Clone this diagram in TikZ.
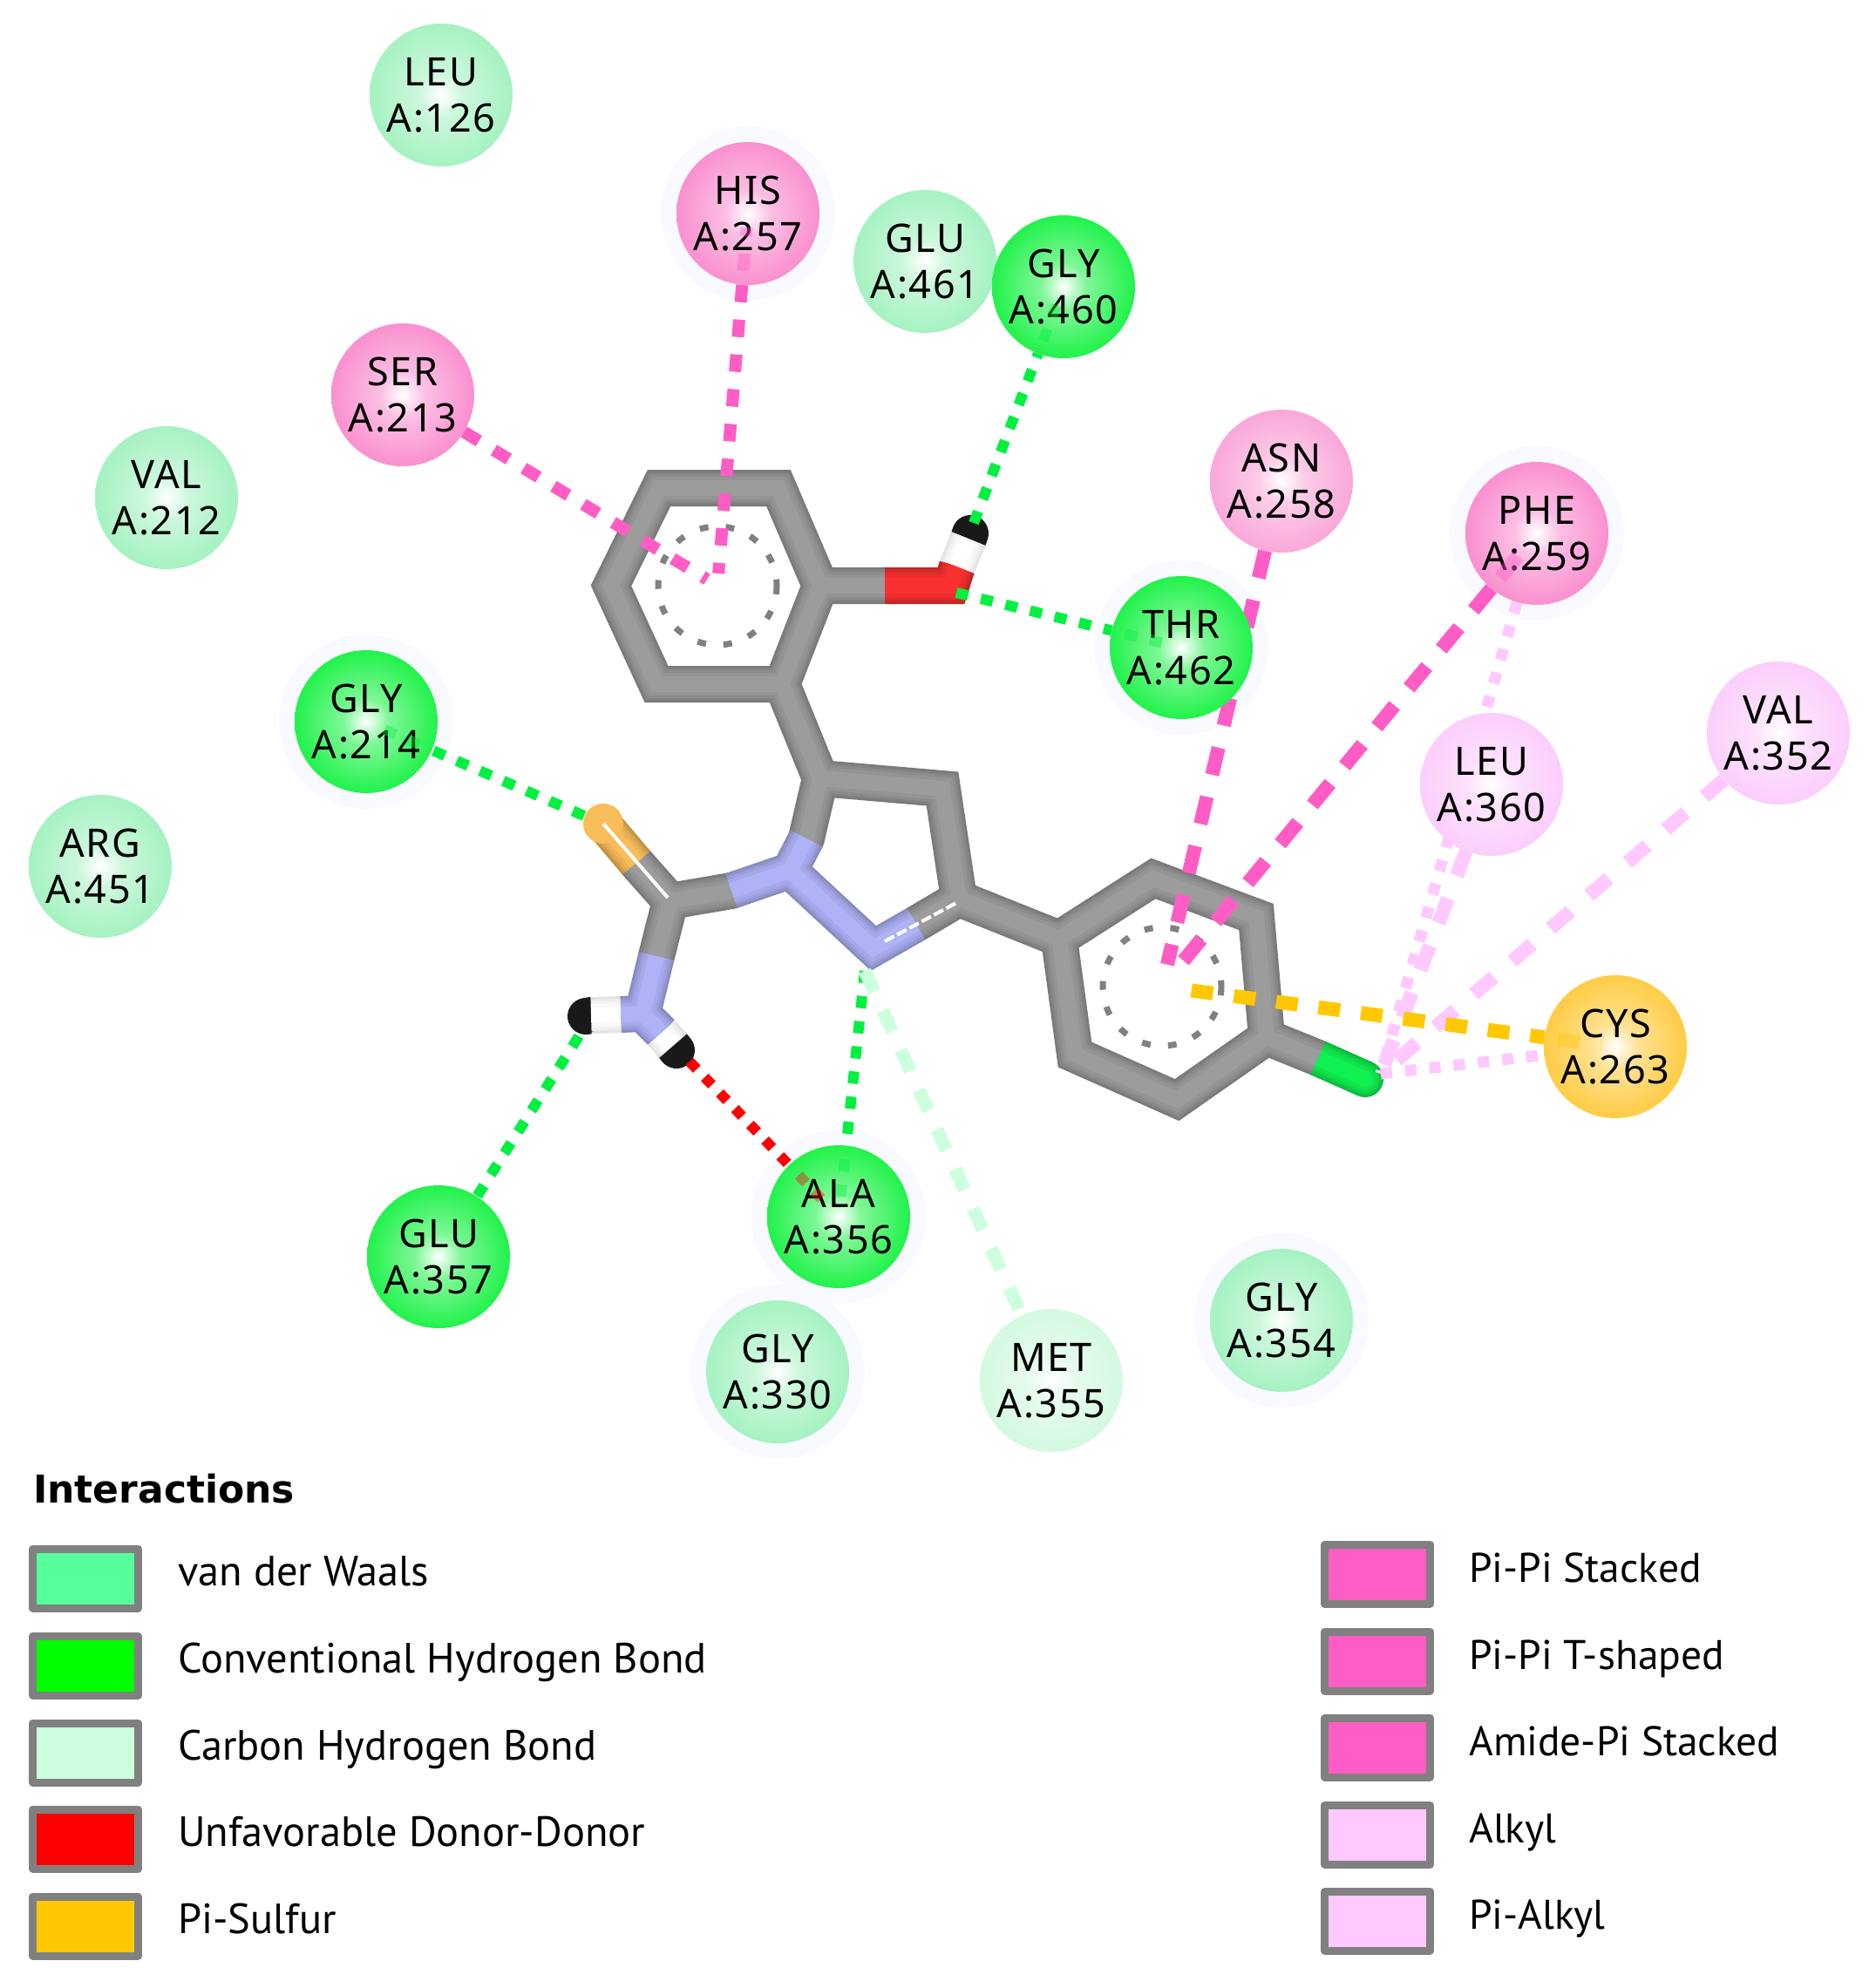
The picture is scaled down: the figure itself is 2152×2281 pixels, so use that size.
\documentclass[tikz,border=0pt]{standalone}
\usepackage{fontspec}
\usetikzlibrary{backgrounds,calc}

\newfontfamily\resfont[LetterSpace=3.5]{Noto Sans}
\newfontfamily\legfont{PT Sans}
\newfontfamily\legtitlefont{DejaVu Sans}

% Residue and legend colours
\definecolor{vdwc}{HTML}{55FF99}
\definecolor{hbondc}{HTML}{00F040}
\definecolor{chbondc}{HTML}{CCFFDD}
\definecolor{redc}{HTML}{FF0000}
\definecolor{sulfc}{HTML}{FFC800}
\definecolor{pipic}{HTML}{FF5CC6}
\definecolor{alkylc}{HTML}{FFC8FF}
\definecolor{bondc}{HTML}{9C9C9C}
\definecolor{nitroc}{HTML}{AEB2F6}
\definecolor{oxyc}{HTML}{F83030}
\definecolor{sulfatomc}{HTML}{F8BC58}
\definecolor{chlorc}{HTML}{10F050}
\definecolor{haloc}{HTML}{F8FAFF}

% White core, then the residue colour over most of the disc
\newcommand{\resshade}[2]{\definecolor{tmpc}{HTML}{#2}%
  \pgfdeclareradialshading{#1}{\pgfpointorigin}{color(0bp)=(white); color(8bp)=(tmpc!50!white);
    color(24bp)=(tmpc!85!white); color(42bp)=(tmpc); color(50bp)=(tmpc)}}
\resshade{vdwshade}{98F0B8}
\resshade{hbondshade}{00F030}
\resshade{chbondshade}{CDF8DC}
\resshade{pipishade}{F97FC8}
\resshade{asnshade}{F99AD3}
\resshade{alkylshade}{FBC6FB}
\resshade{sulfshade}{FFC428}

\tikzset{
  residue/.style={circle, minimum size=164pt, inner sep=0pt, align=center,
    font=\resfont\fontsize{45}{53}\selectfont},
  vdw/.style={residue, shading=vdwshade},
  hbond/.style={residue, shading=hbondshade},
  chbond/.style={residue, shading=chbondshade},
  pipi/.style={residue, shading=pipishade},
  pipilight/.style={residue, shading=asnshade},
  alkyl/.style={residue, shading=alkylshade},
  sulf/.style={residue, shading=sulfshade},
  greenlink/.style={color=hbondc, line width=12pt, dash pattern=on 14pt off 15pt},
  redlink/.style={color=redc, line width=12pt, dash pattern=on 12pt off 13pt},
  carbonlink/.style={color=chbondc, line width=15pt, dash pattern=on 26pt off 24pt},
  pinklink/.style={color=pipic, line width=14pt, dash pattern=on 20pt off 20pt},
  pinkwide/.style={color=pipic, line width=16pt, dash pattern=on 32pt off 26pt},
  sulflink/.style={color=sulfc, line width=16pt, dash pattern=on 25pt off 24pt},
  alkylwide/.style={color=alkylc, line width=16pt, dash pattern=on 30pt off 28pt},
  alkylthin/.style={color=alkylc, line width=13pt, dash pattern=on 13pt off 15pt},
  legbox/.style={draw=gray, line width=9pt, minimum width=121pt, minimum height=68pt, inner sep=0pt},
  legtext/.style={anchor=base west, inner sep=0pt, font=\legfont\fontsize{48.5}{52}\selectfont},
  legtextr/.style={legtext, font=\legfont\fontsize{47.5}{52}\selectfont},
}

\begin{document}
\begin{tikzpicture}[x=1pt, y=-1pt, line join=round]

\useasboundingbox (0,0) rectangle (2152,2281);

% Residues
\foreach \name/\x/\y/\kind/\top/\bot in {
  leu126/506/109/vdw/LEU/A:126, glu461/1061/300/vdw/GLU/A:461,
  val212/191/571/vdw/VAL/A:212, arg451/115/994/vdw/ARG/A:451,
  gly330/892/1574/vdw/GLY/A:330, gly354/1470/1515/vdw/GLY/A:354,
  gly460/1220/329/hbond/GLY/A:460, thr462/1355/743/hbond/THR/A:462,
  gly214/420/828/hbond/GLY/A:214, ala356/962/1396/hbond/ALA/A:356,
  glu357/503/1442/hbond/GLU/A:357, met355/1206/1584/chbond/MET/A:355,
  his257/858/245/pipi/HIS/A:257, ser213/462/453/pipi/SER/A:213,
  asn258/1470/552/pipilight/ASN/A:258, phe259/1763/612/pipi/PHE/A:259,
  leu360/1711/900/alkyl/LEU/A:360, val352/2040/841/alkyl/VAL/A:352,
  cys263/1853/1201/sulf/CYS/A:263}
  \node[\kind] (\name) at (\x,\y) {\top\\\bot};

% Atoms where the dashed contacts end
\coordinate (ringA) at (823,672);
\coordinate (ringB) at (1333,1132);
\coordinate (hydroxyH) at (1117,600);
\coordinate (oxy) at (1097,680);
\coordinate (sulfur) at (670,936);
\coordinate (amideHa) at (664,1189);
\coordinate (amideHb) at (791,1218);
\coordinate (nitroB) at (992,1114);
\coordinate (chlor) at (1584,1232);

\begin{pgfonlayer}{background}

% Faint halos
\foreach \name in {his257,gly214,thr462,ala356,gly330,gly354,phe259}
  \fill[haloc] (\name) circle (100);

% Ring dashes
\draw[color=gray, line width=7pt, dash pattern=on 10pt off 20pt] (ringA) circle (68);
\draw[color=gray, line width=7pt, dash pattern=on 10pt off 20pt] (ringB) circle (68);

% Stick model, dark edge first and light core last
\foreach \w/\s in {42/78, 37/84, 32/90, 26/95, 18/100}{
  \draw[line width=\w pt, color=bondc!\s!black, line cap=round]
    (756,560) -- (893,560) -- (941,672) -- (897,785) -- (753,785) -- (701,672) -- cycle
    (941,672) -- (1015,672)
    (897,785) -- (941,893) -- (1081,905) -- (1100,1031) -- (1051,1060)
    (941,893) -- (925,962)
    (839,1022) -- (769,1034) -- (753,1097)
    (769,1034) -- (730,990)
    (1100,1031) -- (1215,1077)
    (1323,1008) -- (1441,1052) -- (1453,1190) -- (1350,1262) -- (1233,1210) -- (1215,1077) -- cycle
    (1453,1190) -- (1512,1214);
  % Nitrogen
  \draw[line width=\w pt, color=nitroc!\s!black]
    (925,962) -- (906,999) -- (839,1022)
    (906,999) -- (1002,1088) -- (1051,1060)
    (753,1097) -- (737,1163) -- (712,1164)
    (737,1163) -- (759,1185);
  % Sulfur end of the double bond
  \draw[line width=\w pt, color=sulfatomc!\s!black] (730,990) -- (692,945);
  % Oxygen
  \draw[line width=\w pt, color=oxyc!\s!black] (1015,672) -- (1091,672) -- (1098,650);
  % Chlorine
  \draw[line width=\w pt, color=chlorc!\s!black, line cap=round] (1530,1222) -- (1566,1238);
  \draw[line width=\w pt, color=chlorc!\s!black] (1512,1214) -- (1530,1222);
  % Hydrogens, black tip under the white part
  \draw[line width=\w pt, color=black!90, line cap=round]
    (1111,618) -- (1113,612)
    (678,1165) -- (672,1166)
    (772,1200) -- (776,1205);
  \draw[line width=\w pt, color=white!\s!gray]
    (1098,650) -- (1111,618)
    (712,1164) -- (678,1165)
    (759,1185) -- (772,1200);
}
\fill[sulfatomc] (692,945) circle (23);

% White gaps of the double bonds
\draw[white, line width=4pt] (766,1030) -- (692,945);
\draw[white, line width=4pt, dash pattern=on 12pt off 4pt] (1015,1080) -- (1097,1036);

% Contacts
\draw[greenlink] (hydroxyH) -- (gly460);
\draw[greenlink] (oxy) -- (thr462);
\draw[greenlink] (sulfur) -- (gly214);
\draw[greenlink] (amideHa) -- (glu357);
\draw[greenlink] (nitroB) -- (ala356);
\draw[redlink] (amideHb) -- (ala356);
\draw[carbonlink] (nitroB) -- (met355);
\draw[pinklink, shorten >=14pt] (his257) -- (ringA);
\draw[pinklink, shorten >=14pt] (ser213) -- (ringA);
\draw[pinkwide, shorten >=26pt] (asn258) -- (ringB);
\draw[pinkwide, shorten >=26pt] (phe259) -- (ringB);
\draw[alkylthin] (phe259) -- (chlor);
\draw[alkylwide] (leu360) -- (chlor);
\draw[alkylwide] (val352) -- (chlor);
\draw[alkylthin] (chlor) -- (cys263);
\draw[sulflink, shorten <=34pt] (ringB) -- (cys263);

\end{pgfonlayer}

% Contact ends that show through the discs
\foreach \res/\atom/\sty in {ala356/amideHb/redlink, ala356/nitroB/greenlink,
  thr462/oxy/greenlink, gly214/sulfur/greenlink, cys263/ringB/sulflink,
  gly460/hydroxyH/greenlink, his257/ringA/pinklink, phe259/ringB/pinkwide}
  \draw[\sty, opacity=.4] ($(\res.center)!66pt!(\atom)$) -- ($(\res.center)!16pt!(\atom)$);

% Legend
\node[anchor=base west, inner sep=0pt, font=\legtitlefont\bfseries\fontsize{44}{50}\selectfont] (legtitle) at (38,1724) {Interactions};

\foreach \i/\y/\c/\txt in {
  a/1811/vdwc/van der Waals,
  b/1911/green/Conventional Hydrogen Bond,
  c/2011/chbondc/Carbon Hydrogen Bond,
  d/2110/redc/Unfavorable Donor-Donor,
  e/2210/sulfc/Pi-Sulfur}{
  \node[legbox, fill=\c] (boxl\i) at (98,\y) {};
  \node[legtext] (textl\i) at (204,\y+8) {\txt};
}

\foreach \i/\y/\c/\txt in {
  a/1806/pipic/Pi-Pi Stacked,
  b/1906/pipic/Pi-Pi T-shaped,
  c/2005/pipic/Amide-Pi Stacked,
  d/2105/alkylc/Alkyl,
  e/2204/alkylc/Pi-Alkyl}{
  \node[legbox, fill=\c] (boxr\i) at (1580,\y) {};
  \node[legtextr] (textr\i) at (1685,\y+9) {\txt};
}

\end{tikzpicture}
\end{document}
